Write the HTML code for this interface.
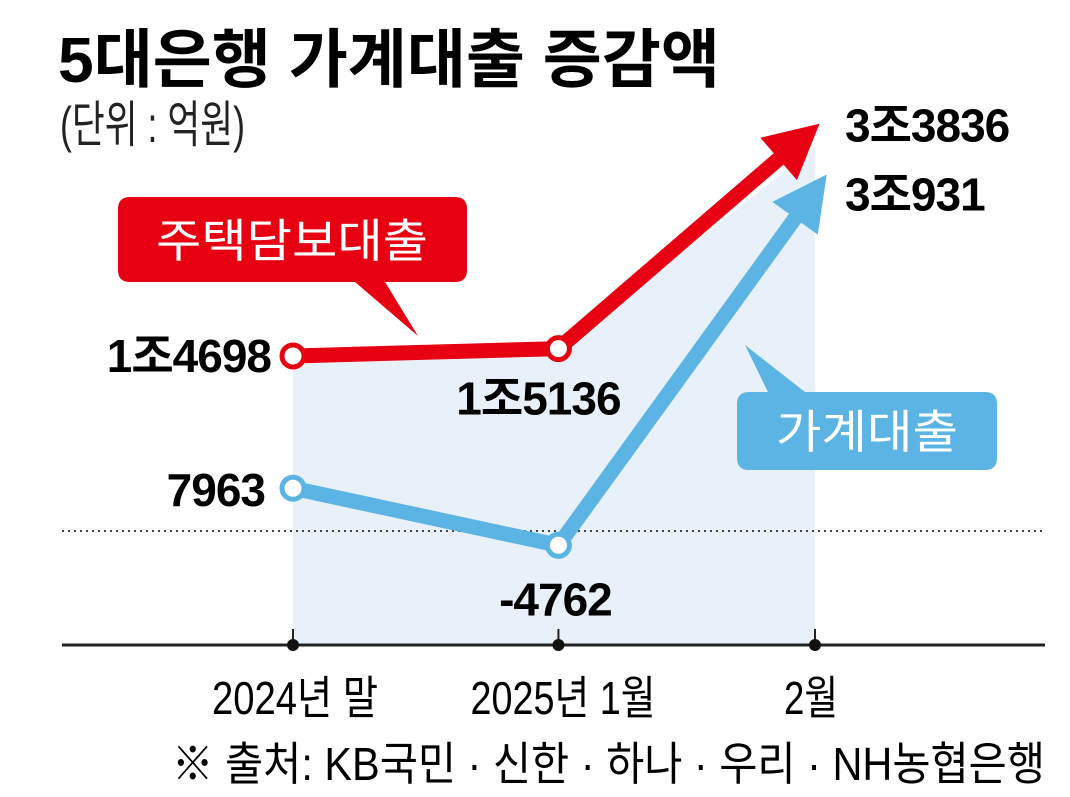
<!DOCTYPE html>
<html><head><meta charset="utf-8"><style>
html,body{margin:0;padding:0;background:#fff;}
svg{display:block;font-family:"Liberation Sans","Noto Sans CJK KR",sans-serif;}
</style></head><body>
<svg id="chart" width="1070" height="797" viewBox="0 0 1070 797">
<text x="58" y="82" font-size="64" font-weight="bold" textLength="662" lengthAdjust="spacingAndGlyphs">5대은행 가계대출 증감액</text>
<text x="60" y="142" font-size="50" fill="#222" textLength="185" lengthAdjust="spacingAndGlyphs">(단위 : 억원)</text>
<g id="plot"></g>
<text x="295" y="714" font-size="46" text-anchor="middle" textLength="166" lengthAdjust="spacingAndGlyphs">2024년 말</text>
<text x="563" y="714" font-size="46" text-anchor="middle" textLength="185" lengthAdjust="spacingAndGlyphs">2025년 1월</text>
<text x="811" y="714" font-size="46" text-anchor="middle" textLength="54" lengthAdjust="spacingAndGlyphs">2월</text>
<text x="172" y="780" font-size="46" textLength="873" lengthAdjust="spacingAndGlyphs">※ 출처: KB국민 · 신한 · 하나 · 우리 · NH농협은행</text>
</svg>
<script>
const categories = ["2024년 말", "2025년 1월", "2월"];
const categoryDays = [0, 30, 59];
const mortgageValues = [14698, 15136, 33836];
const householdValues = [7963, -4762, 30931];
const mortgageLabels = ["1조4698", "1조5136", "3조3836"];
const householdLabels = ["7963", "-4762", "3조931"];

const NS = "http://www.w3.org/2000/svg";
const plot = document.getElementById("plot");
function xScale(i){ return 293 + categoryDays[i] / categoryDays[categoryDays.length-1] * (815 - 293); }
// piecewise (non-linear infographic) value scale
const knotD = [-5000, 0, 8000, 15000, 31000, 34000];
const knotR = [546, 531, 488, 350, 190, 124];
function yScale(v){
  for (let k = 0; k < knotD.length - 1; k++) {
    if (v <= knotD[k+1] || k === knotD.length - 2) {
      const t = (v - knotD[k]) / (knotD[k+1] - knotD[k]);
      return knotR[k] + t * (knotR[k+1] - knotR[k]);
    }
  }
}
function mk(tag, attrs){ const e = document.createElementNS(NS, tag); for (const k in attrs) e.setAttribute(k, attrs[k]); plot.appendChild(e); return e; }

const baseY = 645;
let pts = mortgageValues.map((v,i)=> xScale(i)+","+(yScale(v)+(i===2?20:0))).join(" ");
const shade = mk("polygon", {points: xScale(0)+","+baseY+" "+pts+" "+xScale(2)+","+baseY, fill:"#e8f1f9"});



const zl = mk("line", {x1:62, x2:1042, y1:yScale(0), y2:yScale(0), stroke:"#444", "stroke-width":2, "stroke-dasharray":"2 4"});



const ax = mk("line", {x1:62, x2:1045, y1:baseY, y2:baseY, stroke:"#222", "stroke-width":3});


categories.forEach((c,i)=>{
  const t = mk("line", {x1:xScale(i), x2:xScale(i), y1:baseY-16, y2:baseY, stroke:"#222", "stroke-width":2});
  
  
  const d = mk("circle", {cx:xScale(i), cy:baseY, r:6, fill:"#111"});
  
  
});

function series(vals, color, name, ext){
  const P = vals.map((v,i)=>[xScale(i), yScale(v)]);
  const last = P[P.length-1], prev = P[P.length-2];
  const dx = last[0]-prev[0], dy = last[1]-prev[1], L = Math.hypot(dx,dy);
  const ux = dx/L, uy = dy/L, nx = -uy, ny = ux;
  const tip = [last[0]+ux*ext, last[1]+uy*ext];
  const hb = [tip[0]-ux*48, tip[1]-uy*48];
  const path = mk("polyline", {points: P.slice(0,-1).map(p=>p.join(",")).join(" ")+" "+hb.join(","), fill:"none", stroke:color, "stroke-width":15, "stroke-linejoin":"round"});
  
  
  const head = mk("polygon", {points:[tip, [hb[0]+nx*28-ux*6, hb[1]+ny*28-uy*6], [hb[0]-nx*28-ux*6, hb[1]-ny*28-uy*6]].map(p=>p.join(",")).join(" "), fill:color});
  
  
  P.slice(0,-1).forEach(p=>{
    const c = mk("circle", {cx:p[0], cy:p[1], r:11, fill:"#fff", stroke:color, "stroke-width":5});
    
    
  });
  return P;
}
const pm = series(mortgageValues, "#e60012", "mortgage", 6);
const ph = series(householdValues, "#5cb4e4", "household", 20);

function label(x,y,txt,anchor,name){
  const t = mk("text", {x:x, y:y, "font-size":46, "font-weight":"bold", "text-anchor":anchor, "letter-spacing":"-1"});
  t.textContent = txt;
  
  
}
label(pm[0][0]-22, pm[0][1]+16, mortgageLabels[0], "end", "mortgage-value-1");
label(pm[1][0]-20, pm[1][1]+66, mortgageLabels[1], "middle", "mortgage-value-2");
label(845, pm[2][1]+14, mortgageLabels[2], "start", "mortgage-value-3");
label(ph[0][0]-28, ph[0][1]+18, householdLabels[0], "end", "household-value-1");
label(ph[1][0]-3, ph[1][1]+70, householdLabels[1], "middle", "household-value-2");
label(845, ph[2][1]+20, householdLabels[2], "start", "household-value-3");

const rb = mk("path", {d:"M130,197 H455 Q467,197 467,209 V270 Q467,282 455,282 H385 L418,336 L355,282 H130 Q118,282 118,270 V209 Q118,197 130,197 Z", fill:"#e60012"});


const rt = mk("text", {x:292, y:257, "font-size":46, fill:"#fff", "text-anchor":"middle", textLength:272, lengthAdjust:"spacingAndGlyphs"});
rt.textContent = "주택담보대출";


const bb = mk("path", {d:"M749,392 H768 L745,345 L805,392 H985 Q997,392 997,404 V458 Q997,470 985,470 H749 Q737,470 737,458 V404 Q737,392 749,392 Z", fill:"#5cb4e4"});


const bt = mk("text", {x:867, y:448, "font-size":46, fill:"#fff", "text-anchor":"middle", textLength:182, lengthAdjust:"spacingAndGlyphs"});
bt.textContent = "가계대출";


</script>
</body></html>
